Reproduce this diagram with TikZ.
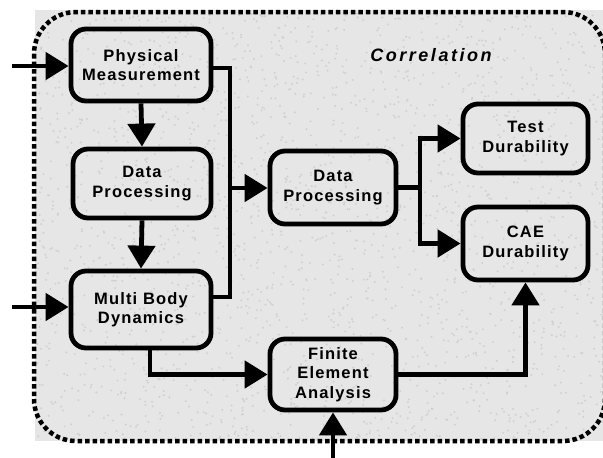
\documentclass[tikz,border=0pt]{standalone}
\usepackage{fontspec}
\newfontfamily\nodefont[LetterSpace=7]{Liberation Sans}
\newfontfamily\titlefont[LetterSpace=14]{Liberation Sans}
\usetikzlibrary{arrows.meta}
\definecolor{bggray}{RGB}{230,230,230}
\definecolor{speck}{RGB}{208,208,208}
\begin{document}
\begin{tikzpicture}[x=1pt,y=-1pt,
  box/.style={draw, line width=4.8pt, rounded corners=15pt, align=center,
    font=\nodefont\bfseries\fontsize{16.5}{19.5}\selectfont, inner sep=0pt},
  conn/.style={line width=4.8pt},
  arr/.style={line width=4.8pt, -{Triangle[length=23pt,width=27pt]}},
  border/.style={line width=4.5pt, dash pattern=on 4.5pt off 3pt, rounded corners=42pt}]
\useasboundingbox (0,0) rectangle (603,458);
\fill[bggray] (35,10) rectangle (603,441);
\pgfmathsetseed{7}
\foreach \i in {1,...,2200}{
  \pgfmathsetmacro{\px}{37+566*rnd}
  \pgfmathsetmacro{\py}{12+427*rnd}
  \fill[speck] (\px,\py) circle[radius=1.1pt];
}
\draw[border] (34,12) rectangle (605,441);
\node[font=\titlefont\bfseries\itshape\fontsize{18}{21}\selectfont] (corr) at (431,55) {Correlation};
\node[box, minimum width=140pt, minimum height=72pt] (PM) at (141,65) {Physical\\Measurement};
\node[box, minimum width=138pt, minimum height=69pt] (DPL) at (142,183.5) {Data\\Processing};
\node[box, minimum width=140pt, minimum height=77pt] (MBD) at (141,309.5) {Multi Body\\Dynamics};
\node[box, minimum width=126pt, minimum height=73pt] (DPM) at (333,187.5) {Data\\Processing};
\node[box, minimum width=125pt, minimum height=69pt] (TD) at (525.5,138.5) {Test\\Durability};
\node[box, minimum width=125pt, minimum height=73pt] (CAE) at (525.5,243.5) {CAE\\Durability};
\node[box, minimum width=126pt, minimum height=71pt] (FEA) at (333,374.5) {Finite\\Element\\Analysis};
\coordinate (in1) at (12,66);
\coordinate (in2) at (12,307);
\coordinate (in3) at (333,458);
\coordinate (j1) at (230,68);
\coordinate (j2) at (230,297);
\coordinate (j3) at (230,188);
\coordinate (j4) at (420,187.5);
\coordinate (m1) at (150,373);
\draw[arr] (in1) -- (PM.west|-in1);
\draw[arr] (in2) -- (MBD.west|-in2);
\draw[arr] (in3) -- (FEA.south);
\draw[arr] (PM.south) -- (DPL.north);
\draw[arr] (DPL.south) -- (MBD.north);
\draw[conn] (PM.east|-j1) -- (j1) -- (j2) -- (MBD.east|-j2);
\draw[arr] (j3) -- (DPM.west|-j3);
\draw[conn] (DPM.east) -- (j4);
\draw[arr] (j4) |- (TD.west);
\draw[arr] (j4) |- (CAE.west);
\draw[arr] (MBD.south-|m1) |- (FEA.west);
\draw[arr] (FEA.east) -| (CAE.south);
\end{tikzpicture}
\end{document}
